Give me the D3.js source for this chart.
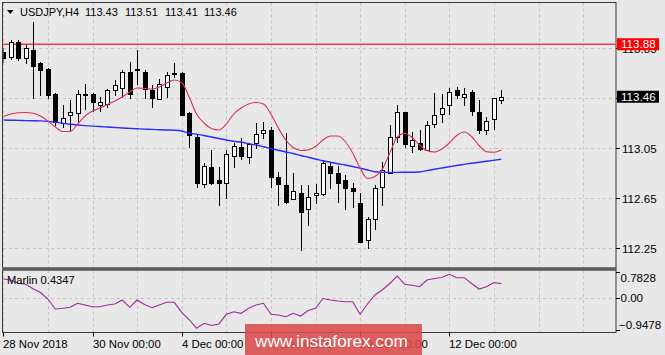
<!DOCTYPE html>
<html><head><meta charset="utf-8">
<script src="https://cdn.jsdelivr.net/npm/d3@7/dist/d3.min.js"></script>
<style>html,body{margin:0;padding:0;background:#e8e8e8;overflow:hidden}svg{display:block}</style>
</head><body><svg id="c" width="665" height="355"></svg>
<script>
// ---------- DATA ----------
const symbolName = "USDJPY,H4";
const headerValues = ["113.43", "113.51", "113.41", "113.46"];
const opens  = [113.82,113.78,113.90,113.77,113.83,113.73,113.68,113.48,113.25,113.31,113.33,113.47,113.48,113.39,113.40,113.51,113.53,113.66,113.67,113.66,113.51,113.44,113.54,113.64,113.65,113.33,113.14,112.76,112.90,112.79,112.77,112.99,113.06,112.98,113.09,113.17,113.19,112.82,112.75,112.64,112.69,112.56,112.67,112.68,112.91,112.85,112.79,112.73,112.61,112.31,112.48,112.74,112.85,113.14,113.34,113.07,113.09,113.03,113.24,113.32,113.39,113.51,113.46,113.50,113.34,113.19,113.28,113.43];
const highs  = [113.85,113.91,113.91,113.87,114.06,113.74,113.69,113.49,113.39,113.43,113.51,113.56,113.49,113.46,113.52,113.59,113.67,113.74,113.83,113.67,113.55,113.60,113.66,113.73,113.66,113.34,113.15,112.93,113.03,112.90,113.03,113.09,113.13,113.09,113.25,113.26,113.22,112.86,113.17,112.85,112.75,112.75,112.76,112.95,112.94,112.91,112.83,112.77,112.69,112.50,112.75,112.94,113.23,113.39,113.34,113.18,113.19,113.27,113.49,113.48,113.53,113.54,113.53,113.51,113.43,113.30,113.45,113.51];
const lows   = [113.74,113.76,113.75,113.73,113.45,113.47,113.45,113.23,113.22,113.19,113.27,113.36,113.35,113.35,113.38,113.47,113.46,113.45,113.56,113.45,113.38,113.44,113.46,113.62,113.31,113.06,112.74,112.74,112.76,112.59,112.65,112.90,112.96,112.93,113.05,113.13,112.74,112.59,112.61,112.64,112.23,112.43,112.61,112.67,112.73,112.62,112.56,112.58,112.30,112.25,112.40,112.59,112.85,113.10,113.06,113.02,113.03,113.03,113.22,113.26,113.32,113.45,113.39,113.31,113.17,113.16,113.20,113.41];
const closes = [113.77,113.90,113.77,113.85,113.71,113.67,113.47,113.26,113.29,113.34,113.48,113.48,113.42,113.42,113.51,113.55,113.66,113.48,113.68,113.52,113.45,113.56,113.63,113.65,113.31,113.15,112.77,112.91,112.77,112.77,113.00,113.07,112.99,113.08,113.16,113.19,112.82,112.76,112.62,112.71,112.54,112.66,112.69,112.93,112.85,112.77,112.73,112.71,112.30,112.48,112.73,112.87,113.14,113.34,113.08,113.11,113.04,113.23,113.31,113.37,113.50,113.47,113.48,113.35,113.19,113.27,113.45,113.46];
const maFast = [113.302,113.322,113.332,113.334,113.328,113.306,113.266,113.218,113.182,113.182,113.242,113.306,113.346,113.370,113.398,113.426,113.458,113.498,113.530,113.526,113.522,113.538,113.570,113.594,113.574,113.458,113.322,113.250,113.206,113.194,113.242,113.322,113.370,113.402,113.414,113.402,113.322,113.210,113.114,113.054,113.030,113.034,113.062,113.114,113.146,113.146,113.102,113.010,112.890,112.806,112.822,112.882,113.010,113.138,113.168,113.134,113.074,113.030,113.018,113.042,113.090,113.150,113.178,113.142,113.070,113.020,113.016,113.034];
const maSlow = [113.274,113.272,113.271,113.269,113.268,113.267,113.263,113.256,113.248,113.240,113.234,113.229,113.225,113.222,113.218,113.214,113.210,113.207,113.204,113.201,113.199,113.196,113.194,113.192,113.186,113.170,113.160,113.150,113.138,113.126,113.114,113.104,113.096,113.085,113.074,113.060,113.045,113.032,113.018,113.006,112.990,112.976,112.962,112.948,112.936,112.924,112.914,112.902,112.888,112.874,112.860,112.856,112.855,112.855,112.856,112.856,112.858,112.869,112.880,112.890,112.900,112.910,112.919,112.928,112.936,112.944,112.952,112.960];
const marlin = [0.574,0.544,0.445,0.416,0.281,0.171,-0.023,-0.322,-0.301,-0.271,-0.151,-0.202,-0.253,-0.253,-0.202,-0.172,-0.053,-0.271,-0.053,-0.187,-0.283,-0.202,-0.122,-0.122,-0.420,-0.635,-0.898,-0.749,-0.814,-0.769,-0.480,-0.402,-0.450,-0.301,-0.202,-0.151,-0.480,-0.501,-0.551,-0.450,-0.531,-0.366,-0.301,-0.008,-0.053,-0.083,-0.104,-0.104,-0.480,-0.172,0.096,0.254,0.440,0.663,0.416,0.386,0.344,0.544,0.589,0.619,0.714,0.613,0.613,0.440,0.275,0.344,0.470,0.4347];
const priceTicks = [112.25, 112.65, 113.05, 113.45, 113.85];
const levelPrice = 113.88;
const lastPrice = 113.46;
const marlinTicks = [0.7828, 0.00, -0.9478];
const marlinName = "Marlin 0.4347";
const timeLabels = ["28 Nov 2018", "30 Nov 00:00", "4 Dec 00:00", "6 Dec 00:00", "10 Dec 00:00", "12 Dec 00:00"];
const timeLabelBars = [0, 12, 24, 36, 48, 60];
const dayGridBars = [0, 6, 12, 18, 24, 30, 36, 42, 48, 54, 60, 66, 72, 78];
const watermark = "www.instaforex.com";

// ---------- LAYOUT ----------
const svg = d3.select("#c");
const L = 3, R = 616, T = 2.5, MB = 268, ST = 270, SB = 332.5;
const font = "'Liberation Sans', Arial, sans-serif";
const x = d3.scaleLinear().domain([0, 60]).range([3.3, 449.3]);
const y = d3.scaleLinear().domain([112.25, 113.85]).range([248, 48]);
const ym = d3.scaleLinear().domain([-0.9478, 0.7828]).range([330, 272]);

svg.append("rect").attr("width", 665).attr("height", 355).attr("fill", "#e8e8e8");

const defs = svg.append("defs");
defs.append("clipPath").attr("id", "mainClip").append("rect")
  .attr("x", L + 0.5).attr("y", T + 0.5).attr("width", R - L - 1).attr("height", MB - T - 1);
defs.append("clipPath").attr("id", "subClip").append("rect")
  .attr("x", L + 0.5).attr("y", ST + 0.5).attr("width", R - L - 1).attr("height", SB - ST - 1);

const grid = "#c4c4c4";
dayGridBars.forEach(b => {
  const gx = Math.round(x(b)) + 0.5;
  [[T, MB], [ST, SB]].forEach(([a, c]) => {
    svg.append("line").attr("x1", gx).attr("x2", gx).attr("y1", a).attr("y2", c)
      .attr("stroke", grid).attr("stroke-dasharray", "3,3");
  });
});
priceTicks.forEach(p => {
  const gy = Math.round(y(p)) + 0.5;
  svg.append("line").attr("x1", L).attr("x2", R).attr("y1", gy).attr("y2", gy)
    .attr("stroke", grid).attr("stroke-dasharray", "3,3");
});
{
  const gy = Math.round(ym(0)) + 0.5;
  svg.append("line").attr("x1", L).attr("x2", R).attr("y1", gy).attr("y2", gy)
    .attr("stroke", grid).attr("stroke-dasharray", "3,3");
}

const main = svg.append("g").attr("clip-path", "url(#mainClip)");

main.append("line").attr("x1", L).attr("x2", R).attr("y1", y(levelPrice)).attr("y2", y(levelPrice))
  .attr("stroke", "#f03c3c").attr("stroke-width", 1.4);

const bars = d3.range(opens.length);
bars.forEach(i => {
  const cx = Math.round(x(i));
  const o = opens[i], c = closes[i], h = highs[i], l = lows[i];
  const up = c >= o;
  const yt = Math.round(y(Math.max(o, c))), yb = Math.round(y(Math.min(o, c)));
  main.append("line").attr("x1", cx + 0.5).attr("x2", cx + 0.5)
    .attr("y1", Math.round(y(h))).attr("y2", Math.round(y(l)) + 1)
    .attr("stroke", "#000").attr("stroke-width", 1);
  if (up) {
    main.append("rect").attr("x", cx - 1.5).attr("y", yt + 0.5)
      .attr("width", 4).attr("height", Math.max(yb - yt, 1))
      .attr("fill", "#fff").attr("stroke", "#000").attr("stroke-width", 1);
  } else {
    main.append("rect").attr("x", cx - 2).attr("y", yt)
      .attr("width", 5).attr("height", Math.max(yb - yt, 1) + 1)
      .attr("fill", "#000");
  }
});

const line = d3.line().x((d, i) => x(i)).y(d => y(d)).curve(d3.curveMonotoneX);
main.append("path").attr("d", line(maSlow)).attr("fill", "none")
  .attr("stroke", "#2a2aff").attr("stroke-width", 1.4);
main.append("path").attr("d", line(maFast)).attr("fill", "none")
  .attr("stroke", "#e03050").attr("stroke-width", 1.1);

const sub = svg.append("g").attr("clip-path", "url(#subClip)");
const mline = d3.line().x((d, i) => x(i)).y(d => ym(d));
sub.append("path").attr("d", mline(marlin)).attr("fill", "none")
  .attr("stroke", "#a0289e").attr("stroke-width", 1.1);
svg.append("text").attr("x", 7).attr("y", 284).attr("font-family", font).attr("font-size", 11.2)
  .attr("fill", "#000").text(marlinName);

svg.append("rect").attr("x", L - 0.5).attr("y", T).attr("width", R - L + 0.5).attr("height", MB - T)
  .attr("fill", "none").attr("stroke", "#3a3a3a").attr("stroke-width", 1);
svg.append("rect").attr("x", L - 0.5).attr("y", ST).attr("width", R - L + 0.5).attr("height", SB - ST)
  .attr("fill", "none").attr("stroke", "#3a3a3a").attr("stroke-width", 1);
svg.append("rect").attr("x", L - 1).attr("y", MB - 0.5).attr("width", R - L + 1.5).attr("height", ST - MB + 1)
  .attr("fill", "#606060");

const axFont = 11.6;
priceTicks.forEach(p => {
  const gy = Math.round(y(p)) + 0.5;
  svg.append("line").attr("x1", R).attr("x2", R + 4).attr("y1", gy).attr("y2", gy).attr("stroke", "#000");
  // labels fully covered by the current-price box are not drawn
  if (Math.abs(y(p) - y(lastPrice)) > 3) {
    svg.append("text").attr("x", 622).attr("y", gy + 4.2).attr("font-family", font).attr("font-size", axFont)
      .attr("fill", "#000").text(d3.format(".2f")(p));
  }
});
function priceBox(p, fill) {
  const cy = y(p);
  svg.append("rect").attr("x", 617).attr("y", cy - 6).attr("width", 42).attr("height", 12).attr("fill", fill);
  svg.append("text").attr("x", 621).attr("y", cy + 4.2).attr("font-family", font).attr("font-size", axFont)
    .attr("fill", "#fff").text(d3.format(".2f")(p));
}
priceBox(levelPrice, "#ff0000");
priceBox(lastPrice, "#000000");

marlinTicks.forEach((v, k) => {
  const gy = ym(v);
  const ty = k === 0 ? 282 : (k === 2 ? 329 : Math.round(gy) + 4.2);
  svg.append("line").attr("x1", R).attr("x2", R + 4).attr("y1", Math.round(gy) + 0.5).attr("y2", Math.round(gy) + 0.5).attr("stroke", "#000");
  svg.append("text").attr("x", v < 0 ? 619 : 620.5).attr("y", ty).attr("font-family", font).attr("font-size", axFont)
    .attr("fill", "#000").text(v === 0 ? "0.00" : d3.format(".4f")(v));
});

timeLabelBars.forEach((b, k) => {
  const gx = Math.round(x(b)) + 0.5;
  svg.append("line").attr("x1", gx).attr("x2", gx).attr("y1", SB).attr("y2", SB + 4).attr("stroke", "#000");
  svg.append("text").attr("x", gx - 0.5).attr("y", 347.5).attr("font-family", font).attr("font-size", 11.4)
    .attr("fill", "#000").text(timeLabels[k]);
});

svg.append("path").attr("d", "M7,10 L13.5,10 L10.25,14 Z").attr("fill", "#000");
svg.append("text").attr("x", 20).attr("y", 16).attr("font-family", font).attr("font-size", 11)
  .attr("fill", "#000").text(symbolName);
[85, 125, 165, 204].forEach((hx, k) => {
  svg.append("text").attr("x", hx).attr("y", 16).attr("font-family", font).attr("font-size", 11)
    .attr("fill", "#000").text(headerValues[k]);
});

svg.append("rect").attr("x", 245).attr("y", 324).attr("width", 177).attr("height", 31)
  .attr("fill", "#d94a4a").attr("opacity", 0.88);
svg.append("text").attr("x", 255).attr("y", 347).attr("font-family", font).attr("font-size", 17.2)
  .attr("fill", "#fff").text(watermark);
</script></body></html>
